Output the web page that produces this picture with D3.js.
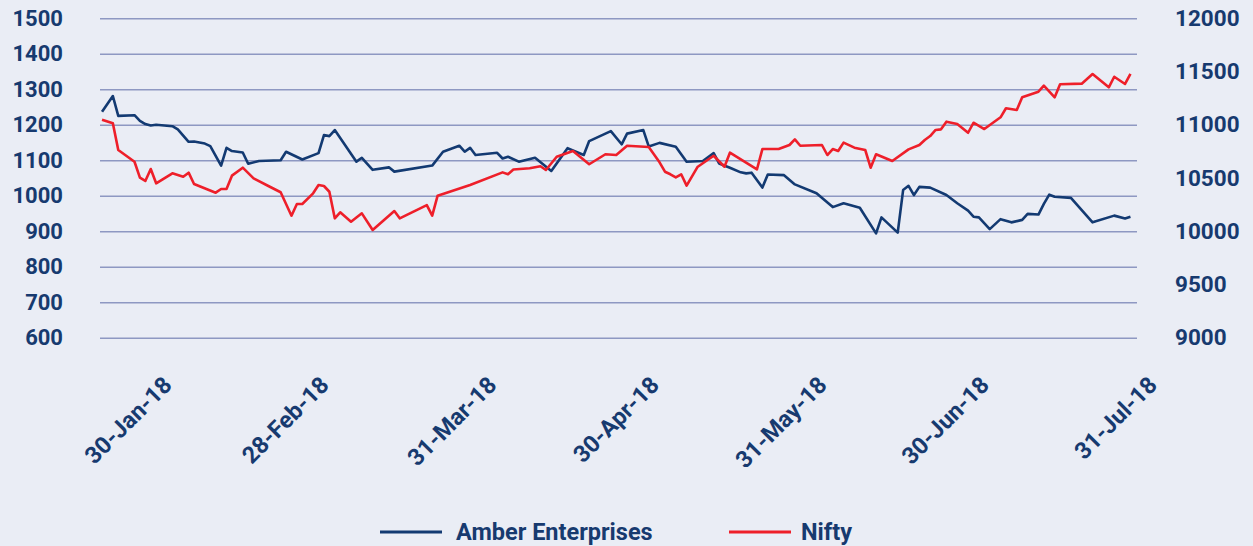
<!DOCTYPE html>
<html>
<head>
<meta charset="utf-8">
<script src="https://cdn.jsdelivr.net/npm/d3@7/dist/d3.min.js"></script>
<style>
  html, body { margin: 0; padding: 0; background: #eaedf5; }
  svg { display: block; }
  text { font-family: Roboto, "Noto Sans", sans-serif; font-weight: 700; fill: #173a6f; }
</style>
</head>
<body>
<svg id="chart" width="1253" height="546"></svg>
<script>
// ---------- data ----------
const leftTicks  = [600, 700, 800, 900, 1000, 1100, 1200, 1300, 1400, 1500];
const rightTicks = [9000, 9500, 10000, 10500, 11000, 11500, 12000];
const xTickDates = ["2018-01-30", "2018-02-28", "2018-03-31", "2018-04-30", "2018-05-31", "2018-06-30", "2018-07-31"];
const seriesNames = ["Amber Enterprises", "Nifty"];

const amberData = [
  ["2018-01-18",1237],["2018-01-20",1281],["2018-01-21",1225],["2018-01-24",1227],["2018-01-25",1211],
  ["2018-01-26",1202],["2018-01-27",1198],["2018-01-28",1200],["2018-01-31",1196],["2018-02-01",1187],
  ["2018-02-03",1152],["2018-02-04",1153],["2018-02-06",1147],["2018-02-07",1140],["2018-02-09",1085],
  ["2018-02-10",1135],["2018-02-11",1126],["2018-02-13",1122],["2018-02-14",1090],["2018-02-16",1098],
  ["2018-02-20",1100],["2018-02-21",1124],["2018-02-24",1102],["2018-02-27",1120],["2018-02-28",1171],
  ["2018-03-01",1168],["2018-03-02",1185],["2018-03-06",1096],["2018-03-07",1107],["2018-03-09",1073],
  ["2018-03-12",1080],["2018-03-13",1068],["2018-03-20",1085],["2018-03-22",1124],["2018-03-25",1141],
  ["2018-03-26",1124],["2018-03-27",1135],["2018-03-28",1115],["2018-04-01",1121],["2018-04-02",1105],
  ["2018-04-03",1110],["2018-04-05",1096],["2018-04-08",1107],["2018-04-11",1070],["2018-04-14",1134],
  ["2018-04-17",1115],["2018-04-18",1154],["2018-04-22",1182],["2018-04-24",1145],["2018-04-25",1175],
  ["2018-04-28",1185],["2018-04-29",1139],["2018-05-01",1149],["2018-05-04",1138],["2018-05-06",1096],
  ["2018-05-09",1098],["2018-05-11",1120],["2018-05-12",1091],["2018-05-14",1079],["2018-05-16",1066],
  ["2018-05-17",1063],["2018-05-18",1065],["2018-05-20",1023],["2018-05-21",1060],["2018-05-24",1058],
  ["2018-05-26",1032],["2018-05-30",1007],["2018-06-02",968],["2018-06-04",979],["2018-06-07",966],
  ["2018-06-10",894],["2018-06-11",939],["2018-06-14",896],["2018-06-15",1016],["2018-06-16",1028],
  ["2018-06-17",1002],["2018-06-18",1025],["2018-06-20",1023],["2018-06-23",1002],["2018-06-25",979],
  ["2018-06-27",958],["2018-06-28",941],["2018-06-29",939],["2018-07-01",906],["2018-07-03",934],
  ["2018-07-05",925],["2018-07-07",932],["2018-07-08",949],["2018-07-10",947],["2018-07-11",977],
  ["2018-07-12",1003],["2018-07-13",997],["2018-07-16",994],["2018-07-20",925],["2018-07-24",944],
  ["2018-07-26",936],["2018-07-27",941]
];

const niftyData = [
  ["2018-01-18",11048],["2018-01-20",11014],["2018-01-21",10763],["2018-01-24",10653],["2018-01-25",10503],
  ["2018-01-26",10472],["2018-01-27",10584],["2018-01-28",10450],["2018-01-31",10544],["2018-02-02",10512],
  ["2018-02-03",10550],["2018-02-04",10444],["2018-02-08",10362],["2018-02-09",10397],["2018-02-10",10397],
  ["2018-02-11",10522],["2018-02-13",10597],["2018-02-15",10497],["2018-02-18",10418],["2018-02-20",10366],
  ["2018-02-22",10146],["2018-02-23",10256],["2018-02-24",10256],["2018-02-26",10356],["2018-02-27",10434],
  ["2018-02-28",10425],["2018-03-01",10371],["2018-03-02",10121],["2018-03-03",10178],["2018-03-05",10089],
  ["2018-03-07",10168],["2018-03-09",10012],["2018-03-13",10190],["2018-03-14",10121],["2018-03-19",10246],
  ["2018-03-20",10146],["2018-03-21",10334],["2018-03-27",10434],["2018-04-02",10553],["2018-04-03",10535],
  ["2018-04-04",10580],["2018-04-07",10591],["2018-04-09",10610],["2018-04-10",10575],["2018-04-12",10700],
  ["2018-04-15",10754],["2018-04-18",10629],["2018-04-21",10723],["2018-04-23",10716],["2018-04-25",10803],
  ["2018-04-29",10791],["2018-05-01",10647],["2018-05-02",10559],["2018-05-03",10535],["2018-05-04",10506],
  ["2018-05-05",10535],["2018-05-06",10428],["2018-05-08",10603],["2018-05-11",10709],["2018-05-13",10606],
  ["2018-05-14",10738],["2018-05-19",10582],["2018-05-20",10772],["2018-05-23",10772],["2018-05-25",10810],
  ["2018-05-26",10863],["2018-05-27",10803],["2018-05-31",10810],["2018-06-01",10716],["2018-06-02",10772],
  ["2018-06-03",10754],["2018-06-04",10832],["2018-06-06",10785],["2018-06-08",10763],["2018-06-09",10597],
  ["2018-06-10",10723],["2018-06-13",10660],["2018-06-16",10769],["2018-06-18",10810],["2018-06-19",10857],
  ["2018-06-20",10894],["2018-06-21",10951],["2018-06-22",10957],["2018-06-23",11029],["2018-06-25",11007],
  ["2018-06-27",10925],["2018-06-28",11019],["2018-06-30",10960],["2018-07-03",11070],["2018-07-04",11155],
  ["2018-07-06",11139],["2018-07-07",11258],["2018-07-10",11311],["2018-07-11",11367],["2018-07-13",11258],
  ["2018-07-14",11380],["2018-07-18",11386],["2018-07-20",11477],["2018-07-23",11352],["2018-07-24",11451],
  ["2018-07-26",11383],["2018-07-27",11477]
];

// ---------- layout ----------
const W = 1253, H = 546;
const plot = { left: 100, right: 1137, top: 18.3, bottom: 337.7 };
const colors = { amber: "#133a72", nifty: "#ee1f2a", grid: "#8e98c2", text: "#173a6f" };

const parse = d3.timeParse("%Y-%m-%d");
const fmt = d3.timeFormat("%d-%b-%y");

const x = d3.scaleTime()
  .domain([new Date(2018, 0, 17, 15), new Date(2018, 6, 28, 5)])
  .range([plot.left, plot.right]);
const yL = d3.scaleLinear().domain([600, 1500]).range([plot.bottom, plot.top]);
const yR = d3.scaleLinear().domain([9000, 12000]).range([plot.bottom, plot.top]);

const svg = d3.select("#chart");
svg.append("rect").attr("width", W).attr("height", H).attr("fill", "#eaedf5");

// gridlines
const grid = svg.append("g").attr("transform", `translate(${plot.left},0)`)
  .call(d3.axisLeft(yL).tickValues(leftTicks).tickSize(-(plot.right - plot.left)).tickFormat(""));
grid.select(".domain").remove();
grid.selectAll(".tick line").attr("stroke", colors.grid).attr("stroke-width", 1.4);

// left axis labels
const gl = svg.append("g").attr("transform", "translate(63,0)")
  .call(d3.axisLeft(yL).tickValues(leftTicks).tickSize(0).tickPadding(0).tickFormat(d3.format("d")));
gl.select(".domain").remove();
gl.selectAll("text").attr("font-size", 22).attr("fill", colors.text)
  .style("font-family", "Roboto").style("font-weight", 700);

// right axis labels
const gr = svg.append("g").attr("transform", "translate(1175,0)")
  .call(d3.axisRight(yR).tickValues(rightTicks).tickSize(0).tickPadding(0).tickFormat(d3.format("d")));
gr.select(".domain").remove();
gr.selectAll("text").attr("font-size", 22.5).attr("fill", colors.text)
  .style("font-family", "Roboto").style("font-weight", 700);

// bottom axis labels
const gb = svg.append("g").attr("transform", `translate(0,${plot.bottom})`)
  .call(d3.axisBottom(x).tickValues(xTickDates.map(parse)).tickSize(0).tickFormat(fmt));
gb.select(".domain").remove();
gb.selectAll("text")
  .attr("y", 0).attr("dy", "0.35em")
  .attr("text-anchor", "end")
  .attr("transform", "translate(0,43) rotate(-45)")
  .attr("font-size", 23.5).attr("fill", colors.text)
  .style("font-family", "Roboto").style("font-weight", 700);

// lines
const amber = amberData.map(d => ({ date: parse(d[0]), v: d[1] }));
const nifty = niftyData.map(d => ({ date: parse(d[0]), v: d[1] }));

svg.append("path").datum(amber)
  .attr("fill", "none").attr("stroke", colors.amber).attr("stroke-width", 2.6)
  .attr("stroke-linejoin", "round")
  .attr("d", d3.line().x(d => x(d.date)).y(d => yL(d.v)));

svg.append("path").datum(nifty)
  .attr("fill", "none").attr("stroke", colors.nifty).attr("stroke-width", 2.6)
  .attr("stroke-linejoin", "round")
  .attr("d", d3.line().x(d => x(d.date)).y(d => yR(d.v)));

// legend
const legend = [
  { name: seriesNames[0], color: colors.amber, x0: 380, gap: 76 },
  { name: seriesNames[1], color: colors.nifty, x0: 729, gap: 72 }
];
const lg = svg.append("g").attr("transform", "translate(0,532)");
legend.forEach(l => {
  lg.append("line").attr("x1", l.x0).attr("x2", l.x0 + 62).attr("y1", 0).attr("y2", 0)
    .attr("stroke", l.color).attr("stroke-width", 3);
  lg.append("text").attr("x", l.x0 + l.gap).attr("y", 0).attr("dy", "0.35em")
    .attr("font-size", 23.5).text(l.name);
});
</script>
</body>
</html>
